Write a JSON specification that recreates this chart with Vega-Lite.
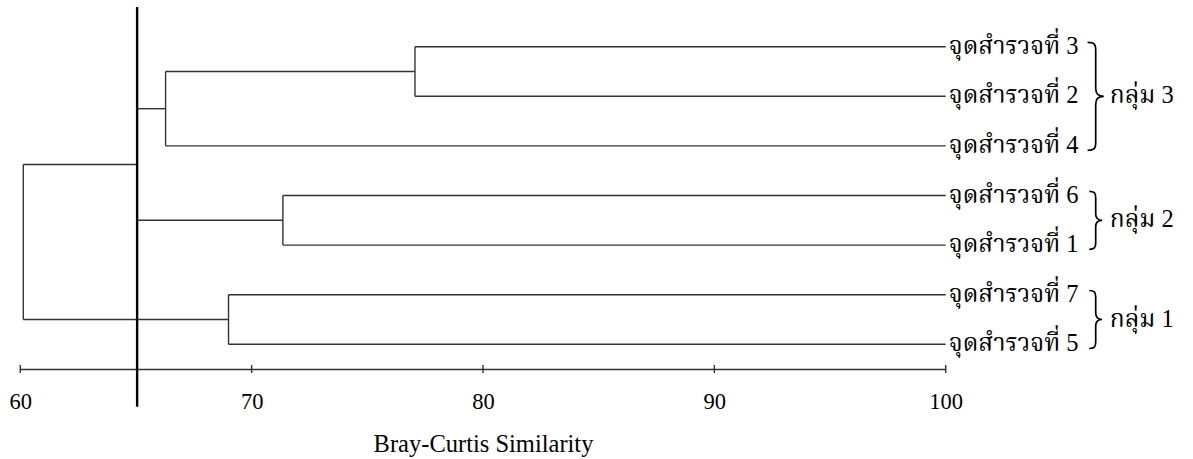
{
  "$schema": "https://vega.github.io/schema/vega-lite/v6.json",
  "width": 1193,
  "height": 459,
  "padding": 0,
  "autosize": {"type": "none"},
  "background": "white",
  "config": {"view": {"stroke": null}},
  "datasets": {
    "segments": [
      {"x": 77.06, "x2": 100, "y": 1, "y2": 1},
      {"x": 77.06, "x2": 100, "y": 2, "y2": 2},
      {"x": 66.28, "x2": 100, "y": 3, "y2": 3},
      {"x": 71.35, "x2": 100, "y": 4, "y2": 4},
      {"x": 71.35, "x2": 100, "y": 5, "y2": 5},
      {"x": 69.0, "x2": 100, "y": 6, "y2": 6},
      {"x": 69.0, "x2": 100, "y": 7, "y2": 7},
      {"x": 66.28, "x2": 77.06, "y": 1.5, "y2": 1.5},
      {"x": 65.04, "x2": 66.28, "y": 2.25, "y2": 2.25},
      {"x": 65.04, "x2": 71.35, "y": 4.5, "y2": 4.5},
      {"x": 60.13, "x2": 65.04, "y": 3.375, "y2": 3.375},
      {"x": 60.13, "x2": 69.0, "y": 6.5, "y2": 6.5},
      {"x": 77.06, "x2": 77.06, "y": 1, "y2": 2},
      {"x": 66.28, "x2": 66.28, "y": 1.5, "y2": 3},
      {"x": 71.35, "x2": 71.35, "y": 4, "y2": 5},
      {"x": 65.04, "x2": 65.04, "y": 2.25, "y2": 4.5},
      {"x": 69.0, "x2": 69.0, "y": 6, "y2": 7},
      {"x": 60.13, "x2": 60.13, "y": 3.375, "y2": 6.5}
    ],
    "leaves": [
      {"label": "จุดสำรวจที่ 3", "x": 100, "y": 1},
      {"label": "จุดสำรวจที่ 2", "x": 100, "y": 2},
      {"label": "จุดสำรวจที่ 4", "x": 100, "y": 3},
      {"label": "จุดสำรวจที่ 6", "x": 100, "y": 4},
      {"label": "จุดสำรวจที่ 1", "x": 100, "y": 5},
      {"label": "จุดสำรวจที่ 7", "x": 100, "y": 6},
      {"label": "จุดสำรวจที่ 5", "x": 100, "y": 7}
    ],
    "groups": [
      {"group": "กลุ่ม 3", "members": 3, "x": 100, "y": 2},
      {"group": "กลุ่ม 2", "members": 2, "x": 100, "y": 4.5},
      {"group": "กลุ่ม 1", "members": 2, "x": 100, "y": 6.5}
    ],
    "ticks": [
      {"x": 60, "y": 7.417, "y2": 7.579},
      {"x": 70, "y": 7.417, "y2": 7.579},
      {"x": 80, "y": 7.417, "y2": 7.579},
      {"x": 90, "y": 7.417, "y2": 7.579},
      {"x": 100, "y": 7.417, "y2": 7.579}
    ],
    "cut": [
      {"x": 65.05, "y": 0.2, "y2": 8.26}
    ]
  },
  "encoding": {
    "x": {
      "field": "x",
      "type": "quantitative",
      "scale": {"domain": [60, 100], "range": [20.3, 945.7], "nice": false, "zero": false}
    },
    "y": {
      "field": "y",
      "type": "quantitative",
      "scale": {"domain": [1, 7], "range": [46.7, 344.3], "nice": false, "zero": false},
      "axis": null
    }
  },
  "layer": [
    {
      "data": {"name": "segments"},
      "mark": {"type": "rule", "color": "#333333", "strokeWidth": 1.4},
      "encoding": {
        "x": {
          "field": "x",
          "type": "quantitative",
          "axis": {
            "values": [60, 70, 80, 90, 100],
            "offset": -90,
            "ticks": false,
            "grid": false,
            "domainColor": "#333333",
            "domainWidth": 1.4,
            "labelFont": "Liberation Serif",
            "labelFontSize": 22.5,
            "labelColor": "black",
            "labelPadding": 21,
            "labelFlush": false,
            "labelOverlap": false,
            "title": "Bray-Curtis Similarity",
            "titleFont": "Liberation Serif",
            "titleFontSize": 24.5,
            "titleFontWeight": "normal",
            "titleColor": "black",
            "titlePadding": 20
          }
        },
        "x2": {"field": "x2"},
        "y2": {"field": "y2"}
      }
    },
    {
      "data": {"name": "ticks"},
      "mark": {"type": "rule", "color": "#333333", "strokeWidth": 1.4},
      "encoding": {
        "y2": {"field": "y2"}
      }
    },
    {
      "data": {"name": "cut"},
      "mark": {"type": "rule", "color": "black", "strokeWidth": 2.4},
      "encoding": {
        "y2": {"field": "y2"}
      }
    },
    {
      "data": {"name": "leaves"},
      "mark": {"type": "text", "align": "left", "baseline": "middle", "dx": 3, "font": "Liberation Serif, Norasi, Kinnari, 'Noto Serif Thai', 'TH Sarabun New', serif", "fontSize": 24.5, "color": "black"},
      "encoding": {"text": {"field": "label"}}
    },
    {
      "data": {"name": "groups"},
      "mark": {"type": "point", "filled": false, "color": "black", "strokeWidth": 1.7, "opacity": 1, "xOffset": 150},
      "encoding": {
        "shape": {
          "field": "members",
          "type": "nominal",
          "scale": {
            "domain": [2, 3],
            "range": [
              "M -0.22 -1 C -0.05 -1 0 -0.95 0 -0.78 L 0 -0.22 C 0 -0.07 0.08 0 0.22 0 C 0.08 0 0 0.07 0 0.22 L 0 0.78 C 0 0.95 -0.05 1 -0.22 1",
              "M -0.15 -1 C -0.03 -1 0 -0.97 0 -0.85 L 0 -0.15 C 0 -0.04 0.05 0 0.15 0 C 0.05 0 0 0.04 0 0.15 L 0 0.85 C 0 0.97 -0.03 1 -0.15 1"
            ]
          },
          "legend": null
        },
        "size": {
          "field": "members",
          "type": "quantitative",
          "scale": {"domain": [2, 3], "range": [3364, 11664], "zero": false},
          "legend": null
        }
      }
    },
    {
      "data": {"name": "groups"},
      "mark": {"type": "text", "align": "left", "baseline": "middle", "dx": 164, "font": "Liberation Serif, Norasi, Kinnari, 'Noto Serif Thai', 'TH Sarabun New', serif", "fontSize": 24.5, "color": "black"},
      "encoding": {"text": {"field": "group"}}
    }
  ]
}
